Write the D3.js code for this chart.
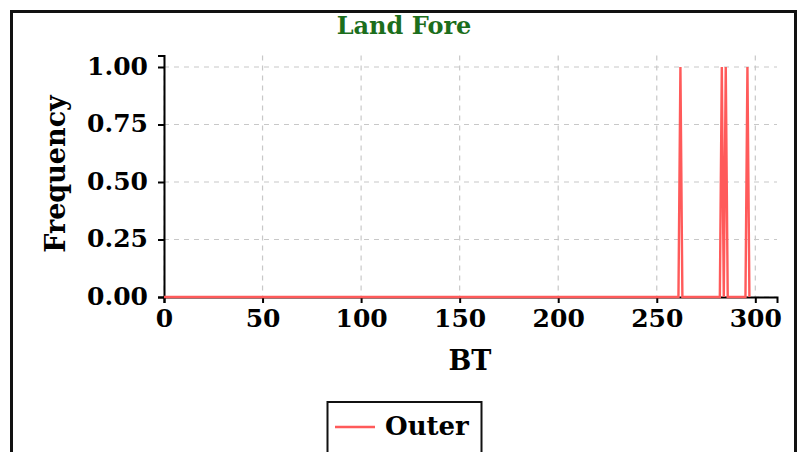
<!DOCTYPE html>
<html>
<head>
<meta charset="utf-8">
<script src="https://cdn.jsdelivr.net/npm/d3@7"></script>
<style>
  html, body { margin: 0; padding: 0; background: #fff; }
  svg text { font-family: "DejaVu Serif", serif; font-weight: bold; }
</style>
</head>
<body>
<svg id="chart" width="803" height="452"></svg>
<script>
// Data
const chartTitle = "Land Fore";
const seriesName = "Outer";
const btValues   = [0, 261, 262, 263, 282, 283, 284, 285, 286, 295, 296, 297];
const freqValues = [0, 0,   1,   0,   0,   1,   0,   1,   0,   0,   1,   0];
const xTicks = [0, 50, 100, 150, 200, 250, 300];
const yTicks = [0, 0.25, 0.5, 0.75, 1.0];

const svg = d3.select("#chart");

// outer frame
svg.append("rect").attr("x", 11.5).attr("y", 11.5).attr("width", 784).attr("height", 460)
  .attr("fill", "#fff").attr("stroke", "#111").attr("stroke-width", 3);

const x = d3.scaleLinear().domain([0, 311]).range([164, 777]);
const y = d3.scaleLinear().domain([0, 1.05]).range([297, 55.5]);

// title
svg.append("text").attr("x", 404).attr("y", 34).attr("text-anchor", "middle")
  .attr("fill", "#1c6e1c").style("font-size", "24px").text(chartTitle);

// grid
const grid = svg.append("g");
grid.selectAll(".gv").data(xTicks).join("line")
  .attr("x1", d => x(d)).attr("x2", d => x(d)).attr("y1", y(1.05)).attr("y2", y(0))
  .attr("stroke", "#c8c8c8").attr("stroke-width", 1.2).attr("stroke-dasharray", "5,5");
grid.selectAll(".gh").data(yTicks).join("line")
  .attr("x1", x(0)).attr("x2", x(311)).attr("y1", d => y(d)).attr("y2", d => y(d))
  .attr("stroke", "#c8c8c8").attr("stroke-width", 1.2).attr("stroke-dasharray", "5,5");

// axes
const gx = svg.append("g").attr("transform", `translate(0,${y(0)})`)
  .call(d3.axisBottom(x).tickValues(xTicks).tickSize(6).tickFormat(d3.format("d")));
const gy = svg.append("g").attr("transform", `translate(${x(0)},0)`)
  .call(d3.axisLeft(y).tickValues(yTicks).tickSize(6).tickFormat(d3.format(".2f")));
[gx, gy].forEach(g => {
  g.select(".domain").attr("stroke", "#000").attr("stroke-width", 2);
  g.selectAll(".tick line").attr("stroke", "#000").attr("stroke-width", 2);
  g.selectAll(".tick text").attr("fill", "#000").style("font-size", "25px")
    .style("font-family", "'DejaVu Serif', serif").style("font-weight", "bold");
});
gx.selectAll(".tick text").attr("dy", "0.71em").attr("y", 12);
gy.selectAll(".tick text").attr("x", -16).attr("dy", "0.28em");

// line
const pts = btValues.map((b, i) => [b, freqValues[i]]);
svg.append("path").datum(pts)
  .attr("fill", "none").attr("stroke", "#ff5a5a").attr("stroke-width", 2.4)
  .attr("d", d3.line().x(d => x(d[0])).y(d => y(d[1])));

// axis labels
svg.append("text").attr("x", 470).attr("y", 370).attr("text-anchor", "middle")
  .attr("fill", "#000").style("font-size", "27px").text("BT");
svg.append("text").attr("transform", "translate(65,174) rotate(-90)").attr("text-anchor", "middle")
  .attr("fill", "#000").style("font-size", "27px").text("Frequency");

// legend
const lg = svg.append("g");
lg.append("rect").attr("x", 327.5).attr("y", 402).attr("width", 154).attr("height", 60)
  .attr("fill", "#fff").attr("stroke", "#111").attr("stroke-width", 2);
lg.append("line").attr("x1", 335).attr("x2", 375).attr("y1", 427).attr("y2", 427)
  .attr("stroke", "#ff5a5a").attr("stroke-width", 2.5);
lg.append("text").attr("x", 385).attr("y", 435).attr("fill", "#000")
  .style("font-size", "26px").text(seriesName);
</script>
</body>
</html>
